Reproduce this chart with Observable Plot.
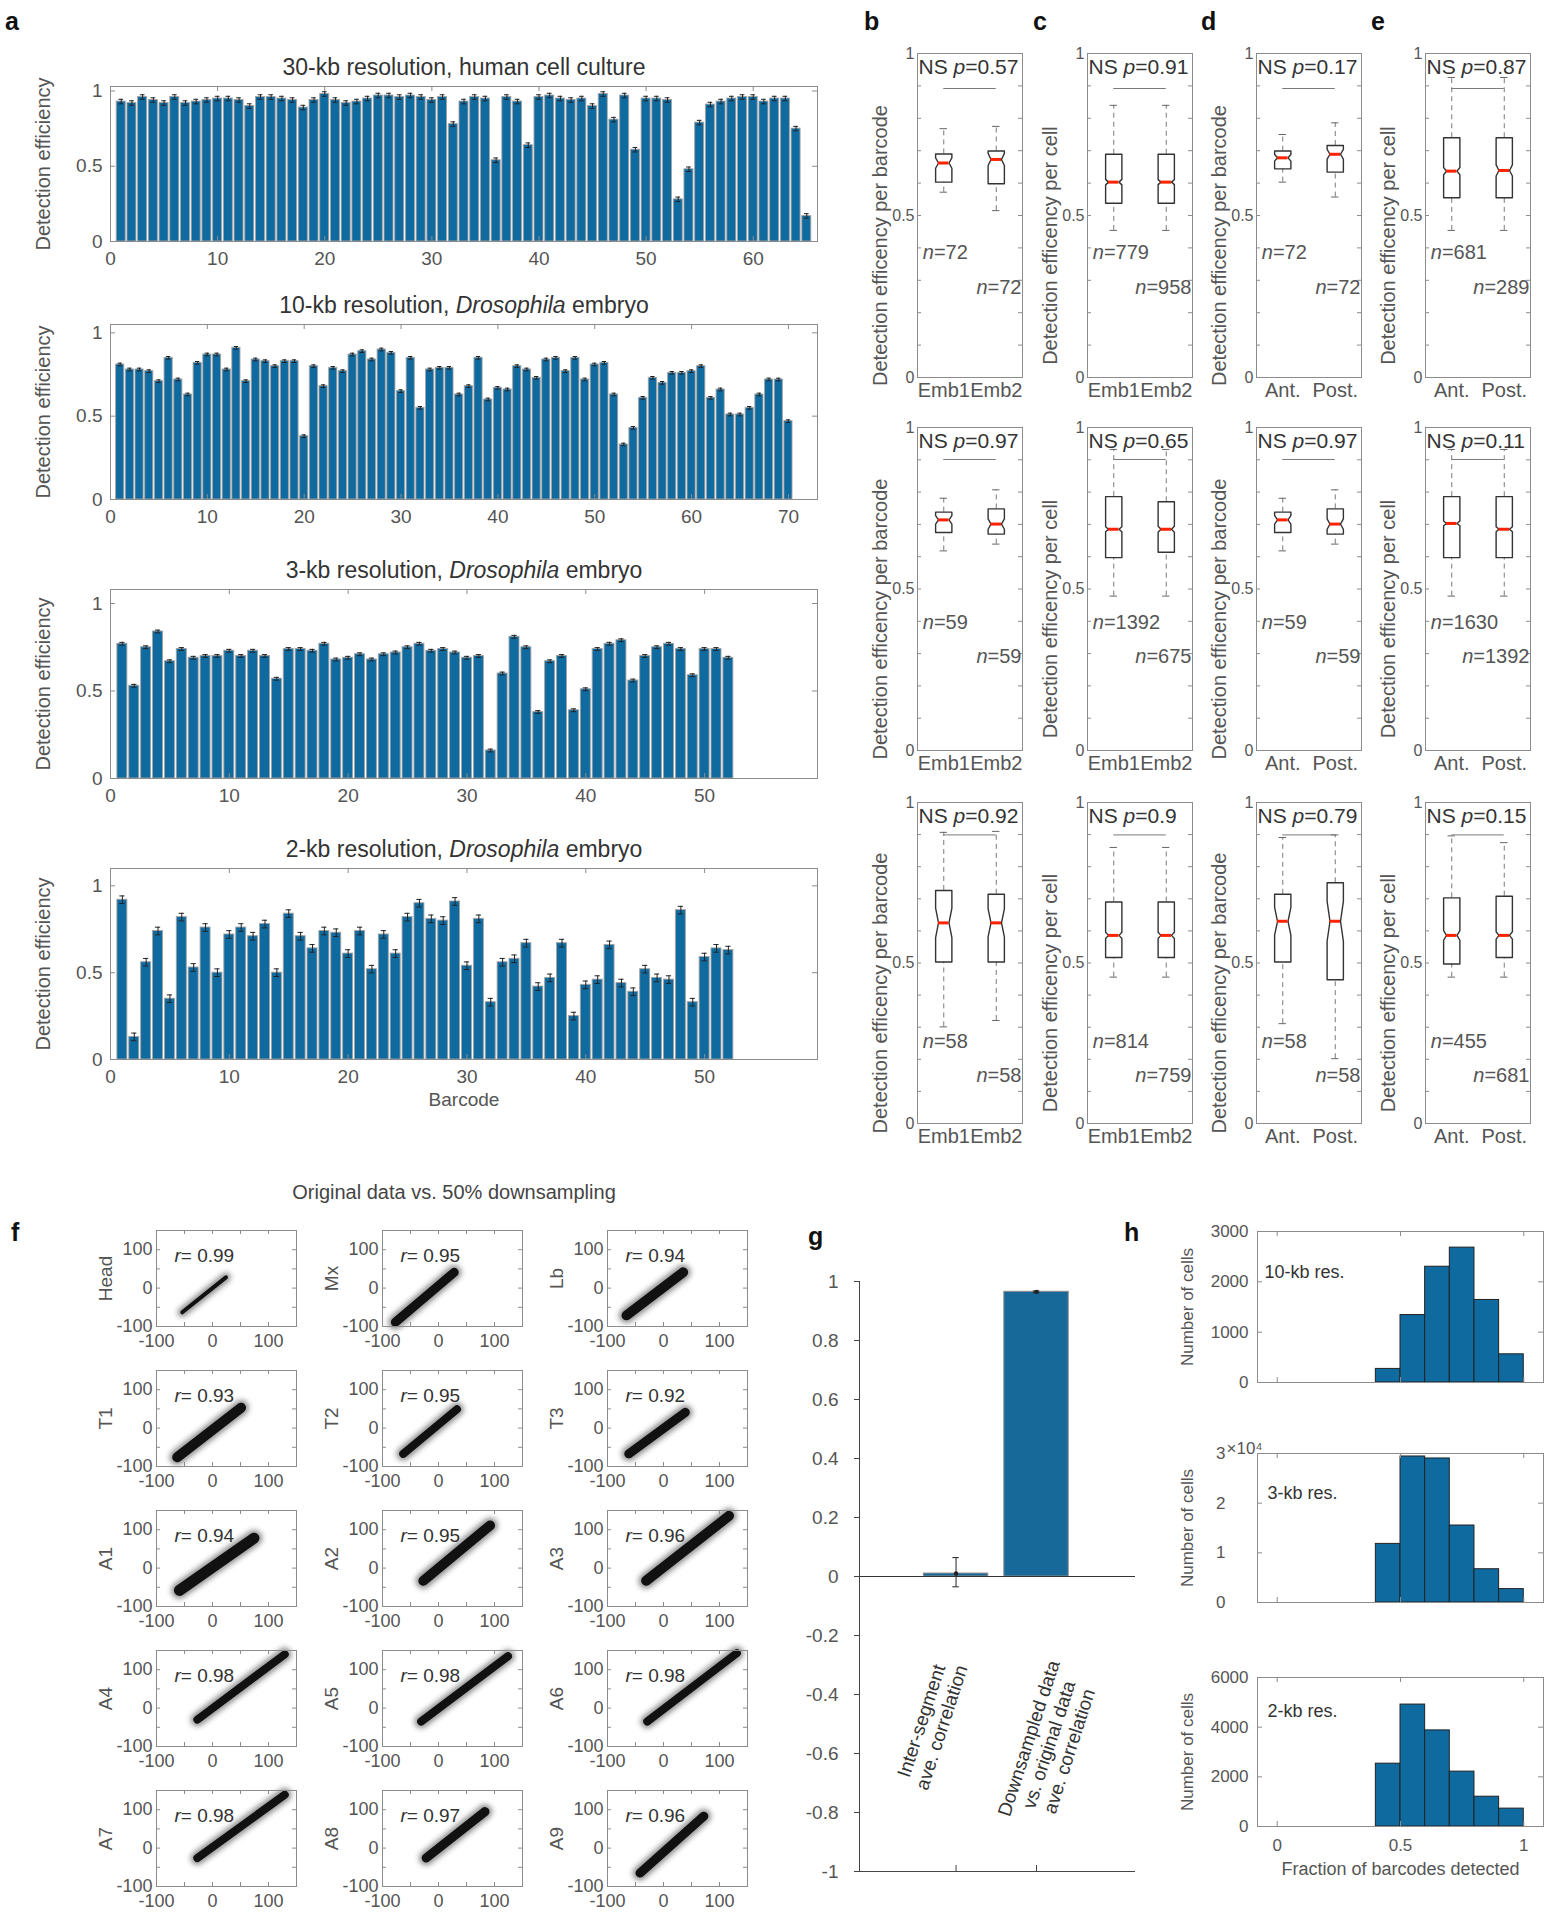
<!DOCTYPE html>
<html><head><meta charset="utf-8">
<script src="https://cdn.jsdelivr.net/npm/d3@7"></script>
<script src="https://cdn.jsdelivr.net/npm/@observablehq/plot@0.6"></script>
<style>
html,body{margin:0;padding:0;background:#fff;}
#fig{position:relative;width:1551px;height:1920px;overflow:hidden;background:#fff;font-family:"Liberation Sans",Arial,sans-serif;}
.plbl{position:absolute;font-weight:bold;font-size:25px;line-height:25px;color:#111;}
.ftitle{position:absolute;font-size:20px;line-height:20px;color:#444;transform:translateX(-50%);white-space:nowrap;}
</style></head><body><div id="fig"></div>
<script>
// ================= DATA =================
// Panel a: detection efficiency per barcode
const eff30 = [0.93,0.92,0.96,0.94,0.92,0.96,0.92,0.93,0.94,0.95, 0.95,0.94,0.90,0.96,0.96,0.95,0.94,0.89,0.94,0.98,
  0.94,0.92,0.93,0.95,0.97,0.97,0.96,0.97,0.96,0.94, 0.96,0.78,0.93,0.96,0.95,0.54,0.96,0.93,0.64,0.96,
  0.97,0.95,0.94,0.95,0.90,0.98,0.81,0.97,0.61,0.95, 0.95,0.94,0.28,0.48,0.79,0.91,0.93,0.95,0.96,0.96,
  0.93,0.95,0.95,0.75,0.17];
const eff10 = [0.81,0.78,0.78,0.77,0.71,0.85,0.72,0.63,0.82,0.87, 0.87,0.78,0.91,0.71,0.84,0.83,0.80,0.83,0.83,0.38,
  0.80,0.68,0.79,0.77,0.87,0.89,0.84,0.90,0.88,0.65, 0.85,0.55,0.78,0.79,0.79,0.63,0.68,0.85,0.60,0.67,
  0.66,0.80,0.78,0.73,0.84,0.85,0.77,0.85,0.72,0.81, 0.82,0.63,0.33,0.43,0.61,0.73,0.70,0.76,0.76,0.77,
  0.80,0.61,0.66,0.51,0.51,0.55,0.63,0.72,0.72,0.47];
const eff3 = [0.77,0.53,0.75,0.84,0.67,0.74,0.69,0.70,0.70,0.73, 0.70,0.73,0.70,0.57,0.74,0.74,0.73,0.77,0.68,0.69,
  0.71,0.68,0.71,0.72,0.75,0.77,0.73,0.74,0.72,0.69, 0.70,0.16,0.60,0.81,0.75,0.38,0.67,0.70,0.39,0.51,
  0.74,0.77,0.79,0.56,0.70,0.75,0.77,0.74,0.59,0.74, 0.74,0.69];
const eff2 = [0.92,0.13,0.56,0.74,0.35,0.82,0.53,0.76,0.50,0.72, 0.76,0.71,0.78,0.50,0.84,0.71,0.64,0.74,0.73,0.61,
  0.74,0.52,0.72,0.61,0.82,0.90,0.81,0.80,0.91,0.54, 0.81,0.33,0.56,0.58,0.67,0.42,0.47,0.67,0.25,0.43,
  0.46,0.66,0.44,0.39,0.52,0.47,0.46,0.86,0.33,0.59, 0.64,0.63];
const effErr = [0.015, 0.008, 0.008, 0.022];          // half-length of error bars per panel
const effTitles = ["30-kb resolution, human cell culture", "10-kb resolution, Drosophila embryo",
  "3-kb resolution, Drosophila embryo", "2-kb resolution, Drosophila embryo"];
const barTicks30 = [0,10,20,30,40,50,60];
const barTicks10 = [0,10,20,30,40,50,60,70];
const barTicks3 = [0,10,20,30,40,50];
const effTicks = [0, 0.5, 1];

// Panels b-e: notched box plots  [whisker low, q1, median, q3, whisker high]
const boxGroupsEmb = ["Emb1", "Emb2"];
const boxGroupsAP = ["Ant.", "Post."];
const boxYLabels = ["Detection efficency per barcode", "Detection efficency per cell",
  "Detection efficency per barcode", "Detection efficency per cell"];
const boxPValue = [["0.57","0.91","0.17","0.87"], ["0.97","0.65","0.97","0.11"], ["0.92","0.9","0.79","0.15"]];
const boxN = [
  [[72,72],[779,958],[72,72],[681,289]],
  [[59,59],[1392,675],[59,59],[1630,1392]],
  [[58,58],[814,759],[58,58],[455,681]]];
const boxStats = [
  [ [[0.572,0.603,0.662,0.690,0.768],[0.515,0.598,0.673,0.699,0.775]],
    [[0.454,0.538,0.603,0.689,0.840],[0.454,0.538,0.603,0.689,0.840]],
    [[0.603,0.644,0.678,0.699,0.750],[0.557,0.634,0.689,0.716,0.786]],
    [[0.454,0.555,0.637,0.740,0.926],[0.454,0.555,0.639,0.740,0.926]] ],
  [ [[0.618,0.675,0.714,0.738,0.781],[0.639,0.670,0.701,0.748,0.807]],
    [[0.478,0.597,0.685,0.786,0.932],[0.478,0.614,0.685,0.770,0.932]],
    [[0.618,0.675,0.714,0.738,0.781],[0.639,0.670,0.701,0.748,0.807]],
    [[0.478,0.597,0.703,0.786,0.932],[0.478,0.597,0.685,0.786,0.932]] ],
  [ [[0.301,0.503,0.625,0.726,0.907],[0.321,0.503,0.625,0.714,0.910]],
    [[0.456,0.517,0.586,0.690,0.860],[0.456,0.517,0.586,0.690,0.860]],
    [[0.311,0.503,0.630,0.714,0.891],[0.202,0.448,0.630,0.750,0.899]],
    [[0.456,0.497,0.586,0.703,0.896],[0.456,0.517,0.586,0.708,0.875]] ] ];
const boxSigLine = [0.892, 0.901, 0.899];
const boxTicks = [0, 0.5, 1];

// Panel f: original vs. downsampled, point cloud extent per segment
const segNames = ["Head","Mx","Lb","T1","T2","T3","A1","A2","A3","A4","A5","A6","A7","A8","A9"];
const segR = ["0.99","0.95","0.94","0.93","0.95","0.92","0.94","0.95","0.96","0.98","0.98","0.98","0.98","0.97","0.96"];
const cloudFrom = [[-54,-63],[-77,-89],[-66,-71],[-63,-76],[-63,-67],[-62,-67],[-59,-58],[-27,-33],[-31,-33],
  [-27,-30],[-31,-35],[-29,-35],[-27,-26],[-22,-26],[-42,-65]];
const cloudTo = [[24,28],[28,41],[35,41],[51,53],[33,49],[39,41],[74,78],[92,111],[117,136],
  [129,140],[124,135],[131,143],[129,139],[83,95],[72,83]];
const cloudSpreadPx = [5,10,11,11,9,10,12,11,11,9,9,9,9,10,10];
const scatterTicks = [-100, 0, 100];

// Panel g
const gCategories = ["Inter-segment\nave. correlation", "Downsampled data\nvs. original data\nave. correlation"];
const gMean = [0.01, 0.965];
const gLow = [-0.035, 0.962];
const gHigh = [0.064, 0.968];
const gTicks = [1, 0.8, 0.6, 0.4, 0.2, 0, -0.2, -0.4, -0.6, -0.8, -1];

// Panel h: histograms of fraction of barcodes detected
const hBinEdges = [0.4, 0.5, 0.6, 0.7, 0.8, 0.9, 1.0];
const hCounts10 = [270, 1340, 2300, 2680, 1640, 560];
const hCounts3 = [11800, 29400, 29000, 15500, 6700, 2700];
const hCounts2 = [2530, 4910, 3870, 2210, 1200, 720];
const hLabels = ["10-kb res.", "3-kb res.", "2-kb res."];

// ================= RENDERING =================
const fig = document.getElementById("fig");
const BLUE = "#0f6aa0";
const FONT = '"Liberation Sans", Arial, Helvetica, sans-serif';
const AX = "#8c8c8c", TXT = "#555", DARK = "#333";
const fmt = d => String(d);
const SVGNS = "http://www.w3.org/2000/svg";

function addTspan(t, s) {
  const ts = document.createElementNS(SVGNS, "tspan");
  ts.setAttribute("font-style", "italic");
  ts.textContent = s;
  t.appendChild(ts);
}
function richify(root) {
  root.querySelectorAll("text").forEach(t => {
    if (t.querySelector("tspan")) return;
    const s = t.textContent;
    const m = s.match(/^(NS )?([pnr])(=.*)$/);
    if (m) {
      t.textContent = "";
      if (m[1]) t.appendChild(document.createTextNode(m[1]));
      addTspan(t, m[2]);
      t.appendChild(document.createTextNode(m[3]));
      return;
    }
    const k = s.indexOf("Drosophila");
    if (k >= 0) {
      t.textContent = "";
      t.appendChild(document.createTextNode(s.slice(0, k)));
      addTspan(t, "Drosophila");
      t.appendChild(document.createTextNode(s.slice(k + 10)));
    }
  });
}
function mount(svg, L, T, mL, mT) {
  svg.style.position = "absolute";
  svg.style.left = (L - mL) + "px";
  svg.style.top = (T - mT) + "px";
  richify(svg);
  fig.appendChild(svg);
}
function baseStyle(size) {
  return {fontFamily: FONT, fontSize: size + "px", color: TXT, background: "transparent", overflow: "visible"};
}
function label(txt, L, T) {
  const d = document.createElement("div");
  d.className = "plbl"; d.textContent = txt;
  d.style.left = L + "px"; d.style.top = T + "px";
  fig.appendChild(d);
}
function yTitle(txt, offset, size, shift = 0) {
  return Plot.text([txt], {frameAnchor: "left", dx: -offset, dy: shift, rotate: -90, textAnchor: "middle", fontSize: size, fill: TXT});
}

// ---------- panel a ----------
const aLayout = [
  {values: eff30, xDomain: [0, 66], yDomain: [0, 1.03], T: 86, B: 241, ticks: barTicks30},
  {values: eff10, xDomain: [0, 73], yDomain: [0, 1.05], T: 324, B: 499, ticks: barTicks10},
  {values: eff3, xDomain: [0, 59.5], yDomain: [0, 1.08], T: 589, B: 778, ticks: barTicks3},
  {values: eff2, xDomain: [0, 59.5], yDomain: [0, 1.1], T: 868, B: 1059, ticks: barTicks3, xlabel: "Barcode"}
];
aLayout.forEach((cfg, k) => {
  const L = 110, R = 817, W = R - L, H = cfg.B - cfg.T;
  const mL = 90, mR = 12, mT = 48, mB = 62;
  const err = effErr[k];
  const data = cfg.values.map((v, i) => ({i: i + 1, v}));
  const svg = Plot.plot({
    width: W + mL + mR, height: H + mT + mB,
    marginLeft: mL, marginRight: mR, marginTop: mT, marginBottom: mB,
    style: baseStyle(19),
    x: {domain: cfg.xDomain}, y: {domain: cfg.yDomain},
    marks: [
      Plot.rect(data, {x1: d => d.i - 0.42, x2: d => d.i + 0.42, y1: 0, y2: "v", fill: BLUE, stroke: "#a3a3a3", strokeWidth: 0.9}),
      Plot.ruleX(data, {x: "i", y1: d => d.v - err, y2: d => d.v + err, stroke: "#222", strokeWidth: 1}),
      Plot.ruleY(data, {y: d => d.v + err, x1: d => d.i - 0.22, x2: d => d.i + 0.22, stroke: "#222", strokeWidth: 1}),
      Plot.ruleY(data, {y: d => d.v - err, x1: d => d.i - 0.22, x2: d => d.i + 0.22, stroke: "#222", strokeWidth: 1}),
      Plot.tickX(cfg.ticks, {x: d => d, insetTop: H - 5, stroke: AX}),
      Plot.tickX(cfg.ticks, {x: d => d, insetBottom: H - 5, stroke: AX}),
      Plot.tickY(effTicks, {y: d => d, insetRight: W - 5, stroke: AX}),
      Plot.tickY(effTicks, {y: d => d, insetLeft: W - 5, stroke: AX}),
      Plot.frame({stroke: AX}),
      Plot.axisX({ticks: cfg.ticks, tickFormat: fmt, tickSize: 0, tickPadding: 10, label: null, fontSize: 19}),
      Plot.axisY({ticks: effTicks, tickFormat: fmt, tickSize: 0, tickPadding: 8, label: null, fontSize: 19}),
      Plot.text([effTitles[k]], {frameAnchor: "top", dy: -28, fontSize: 23, fill: DARK}),
      yTitle("Detection efficiency", 67, 20),
      cfg.xlabel ? Plot.text([cfg.xlabel], {frameAnchor: "bottom", dy: 46, fontSize: 19, fill: TXT}) : null
    ].filter(Boolean)
  });
  mount(svg, L, cfg.T, mL, mT);
});

// ---------- panels b-e ----------
const boxColL = [917, 1087, 1256, 1425];
const boxRowTB = [[53, 377], [427, 750], [802, 1123]];
const nLabelY = [[0.387, 0.278], [0.396, 0.292], [0.254, 0.150]];
const minorTicks = d3.range(0, 11).map(i => i / 10);
for (let row = 0; row < 3; row++) {
  for (let col = 0; col < 4; col++) {
    const L = boxColL[col], [T, B] = boxRowTB[row];
    const W = 105, H = B - T;
    const mL = 62, mR = 14, mT = 10, mB = 34;
    const cats = col < 2 ? boxGroupsEmb : boxGroupsAP;
    const ns = boxN[row][col];
    const boxes = boxStats[row][col].map((s, k) => ({x: k + 1, lo: s[0], q1: s[1], med: s[2], q3: s[3], hi: s[4], n: ns[k]}));
    const hw = 0.155, hin = 0.1;
    const outline = boxes.flatMap(b => {
      const nt = 1.57 * (b.q3 - b.q1) / Math.sqrt(b.n);
      const nlo = Math.max(b.q1, b.med - nt), nhi = Math.min(b.q3, b.med + nt);
      return [[b.x - hw, b.q1], [b.x + hw, b.q1], [b.x + hw, nlo], [b.x + hin, b.med], [b.x + hw, nhi],
        [b.x + hw, b.q3], [b.x - hw, b.q3], [b.x - hw, nhi], [b.x - hin, b.med], [b.x - hw, nlo], [b.x - hw, b.q1]]
        .map(([x, y]) => ({g: b.x, x, y}));
    });
    const svg = Plot.plot({
      width: W + mL + mR, height: H + mT + mB,
      marginLeft: mL, marginRight: mR, marginTop: mT, marginBottom: mB,
      style: baseStyle(20),
      x: {domain: [0.5, 2.5]}, y: {domain: [0, 1]},
      marks: [
        Plot.tickY(minorTicks, {y: d => d, insetRight: W - 4, stroke: AX}),
        Plot.tickY(minorTicks, {y: d => d, insetLeft: W - 4, stroke: AX}),
        Plot.frame({stroke: AX}),
        Plot.ruleX(boxes, {x: "x", y1: "q3", y2: "hi", stroke: "#7a7a7a", strokeDasharray: "5,4"}),
        Plot.ruleX(boxes, {x: "x", y1: "lo", y2: "q1", stroke: "#7a7a7a", strokeDasharray: "5,4"}),
        Plot.ruleY(boxes, {y: "hi", x1: d => d.x - 0.07, x2: d => d.x + 0.07, stroke: "#666"}),
        Plot.ruleY(boxes, {y: "lo", x1: d => d.x - 0.07, x2: d => d.x + 0.07, stroke: "#666"}),
        Plot.ruleY([boxSigLine[row]], {y: d => d, x1: 1, x2: 2, stroke: "#7a7a7a"}),
        Plot.line(outline, {x: "x", y: "y", z: "g", stroke: "#333", strokeWidth: 1.4}),
        Plot.ruleY(boxes, {y: "med", x1: d => d.x - hin, x2: d => d.x + hin, stroke: "#ff2200", strokeWidth: 3}),
        Plot.axisY({ticks: boxTicks, tickFormat: fmt, tickSize: 0, tickPadding: 3, label: null, fontSize: 16}),
        Plot.axisX({ticks: [1, 2], tickFormat: i => cats[i - 1], tickSize: 0, tickPadding: 5, label: null, fontSize: 20}),
        Plot.text(["NS p=" + boxPValue[row][col]], {x: 0.52, y: 0.957, textAnchor: "start", fontSize: 21, fill: DARK}),
        Plot.text(["n=" + ns[0]], {x: 0.6, y: nLabelY[row][0], textAnchor: "start", fontSize: 20, fill: TXT}),
        Plot.text(["n=" + ns[1]], {x: 2.48, y: nLabelY[row][1], textAnchor: "end", fontSize: 20, fill: TXT}),
        yTitle(boxYLabels[col], 37, 20, 30)
      ]
    });
    mount(svg, L, T, mL, mT);
  }
}

// ---------- panel f ----------
const fColL = [156, 382, 607];
const fRowT = [1230, 1370, 1510, 1650, 1790];
const fMinor = [-50, 0, 50, 100];
segNames.forEach((name, k) => {
  const L = fColL[k % 3], T = fRowT[Math.floor(k / 3)];
  const W = 140, H = 96;
  const mL = 62, mR = 14, mT = 8, mB = 34;
  const cloud = [{x1: cloudFrom[k][0], y1: cloudFrom[k][1], x2: cloudTo[k][0], y2: cloudTo[k][1]}];
  const w = cloudSpreadPx[k];
  const svg = Plot.plot({
    width: W + mL + mR, height: H + mT + mB,
    marginLeft: mL, marginRight: mR, marginTop: mT, marginBottom: mB,
    style: baseStyle(18),
    x: {domain: [-100, 150]}, y: {domain: [-100, 150]},
    marks: [
      Plot.link(cloud, {x1: "x1", y1: "y1", x2: "x2", y2: "y2", stroke: "#333", strokeOpacity: 0.5, strokeWidth: w + 5, strokeLinecap: "round"}),
      Plot.link(cloud, {x1: "x1", y1: "y1", x2: "x2", y2: "y2", stroke: "#111", strokeWidth: w - 1, strokeLinecap: "round"}),
      Plot.tickX(fMinor, {x: d => d, insetTop: H - 4, stroke: AX}),
      Plot.tickX(fMinor, {x: d => d, insetBottom: H - 4, stroke: AX}),
      Plot.tickY(fMinor, {y: d => d, insetRight: W - 4, stroke: AX}),
      Plot.tickY(fMinor, {y: d => d, insetLeft: W - 4, stroke: AX}),
      Plot.frame({stroke: AX}),
      Plot.axisX({ticks: scatterTicks, tickFormat: fmt, tickSize: 0, tickPadding: 8, label: null, fontSize: 18}),
      Plot.axisY({ticks: scatterTicks, tickFormat: fmt, tickSize: 0, tickPadding: 4, label: null, fontSize: 18}),
      Plot.text(["r= " + segR[k]], {frameAnchor: "top-left", dx: 18, dy: 18, textAnchor: "start", fontSize: 19, fill: DARK}),
      yTitle(name, 51, 19)
    ]
  });
  // soften the halo of the point cloud with a blur
  const defs = document.createElementNS(SVGNS, "defs");
  const filt = document.createElementNS(SVGNS, "filter");
  filt.setAttribute("id", "cloudblur" + k);
  filt.setAttribute("filterUnits", "userSpaceOnUse");
  filt.setAttribute("x", "0"); filt.setAttribute("y", "0");
  filt.setAttribute("width", String(W + mL + mR)); filt.setAttribute("height", String(H + mT + mB));
  const blur = document.createElementNS(SVGNS, "feGaussianBlur");
  blur.setAttribute("stdDeviation", "2.4");
  filt.appendChild(blur); defs.appendChild(filt); svg.insertBefore(defs, svg.firstChild);
  const links = svg.querySelectorAll('g[aria-label="link"]');
  if (links.length) links[0].setAttribute("filter", `url(#cloudblur${k})`);
  mount(svg, L, T, mL, mT);
});

// ---------- panel g ----------
{
  const L = 859, R = 1135, T = 1281, B = 1871, W = R - L, H = B - T;
  const mL = 70, mR = 14, mT = 10, mB = 14;
  const gData = gMean.map((v, i) => ({x: i + 1, v, lo: gLow[i], hi: gHigh[i], label: gCategories[i]}));
  const svg = Plot.plot({
    width: W + mL + mR, height: H + mT + mB,
    marginLeft: mL, marginRight: mR, marginTop: mT, marginBottom: mB,
    style: baseStyle(19),
    x: {domain: [-0.2, 3.23], axis: null}, y: {domain: [-1, 1]},
    marks: [
      Plot.rect(gData, {x1: d => d.x - 0.4, x2: d => d.x + 0.4, y1: 0, y2: "v", fill: "#17699a", stroke: "#8a8a8a", strokeWidth: 1}),
      Plot.ruleY([0], {stroke: "#333", strokeWidth: 1}),
      Plot.ruleX(gData, {x: "x", y1: "lo", y2: "hi", stroke: "#222"}),
      Plot.ruleY(gData, {y: "hi", x1: d => d.x - 0.04, x2: d => d.x + 0.04, stroke: "#222"}),
      Plot.ruleY(gData, {y: "lo", x1: d => d.x - 0.04, x2: d => d.x + 0.04, stroke: "#222"}),
      Plot.dot(gData, {x: "x", y: "v", r: 2.2, fill: "#222"}),
      Plot.ruleX([-0.2], {y1: -1, y2: 1, stroke: "#444"}),
      Plot.ruleY([-1], {stroke: "#444"}),
      Plot.tickX([1, 2], {x: d => d, insetTop: H - 6, stroke: "#444"}),
      Plot.axisY({ticks: gTicks, tickFormat: fmt, tickSize: 5, tickPadding: 16, label: null, fontSize: 19, stroke: "#444"}),
      Plot.text([gData[0]], {x: "x", y: -0.5, dx: -25, text: "label", rotate: -72, lineHeight: 1.12, fontSize: 19, fill: DARK}),
      Plot.text([gData[1]], {x: "x", y: -0.57, dx: 12, text: "label", rotate: -72, lineHeight: 1.12, fontSize: 19, fill: DARK})
    ]
  });
  mount(svg, L, T, mL, mT);
}

// ---------- panel h ----------
{
  const L = 1257, R = 1543, W = R - L;
  const hLayout = [
    {counts: hCounts10, T: 1231, B: 1382, yMax: 3000, ticks: [0, 1000, 2000, 3000], f: fmt, pad: 9, ann: [7, 34]},
    {counts: hCounts3, T: 1453, B: 1602, yMax: 30000, ticks: [0, 10000, 20000, 30000], f: d => String(d / 1e4), pad: 32, ann: [10, 33], exp: true},
    {counts: hCounts2, T: 1677, B: 1826, yMax: 6000, ticks: [0, 2000, 4000, 6000], f: fmt, pad: 9, ann: [10, 27], xlabel: true}
  ];
  hLayout.forEach((cfg, k) => {
    const H = cfg.B - cfg.T;
    const mL = 82, mR = 8, mT = 24, mB = cfg.xlabel ? 62 : 10;
    const bins = cfg.counts.map((c, i) => ({x1: hBinEdges[i], x2: hBinEdges[i + 1], c}));
    const svg = Plot.plot({
      width: W + mL + mR, height: H + mT + mB,
      marginLeft: mL, marginRight: mR, marginTop: mT, marginBottom: mB,
      style: baseStyle(17),
      x: {domain: [-0.08, 1.08], axis: null}, y: {domain: [0, cfg.yMax], axis: null},
      marks: [
        Plot.rect(bins, {x1: "x1", x2: "x2", y1: 0, y2: "c", fill: BLUE, stroke: "#222", strokeWidth: 1}),
        Plot.tickX([0, 0.5, 1], {x: d => d, insetTop: H - 5, stroke: AX}),
        Plot.tickX([0, 0.5, 1], {x: d => d, insetBottom: H - 5, stroke: AX}),
        Plot.tickY(cfg.ticks, {y: d => d, insetRight: W - 5, stroke: AX}),
        Plot.tickY(cfg.ticks, {y: d => d, insetLeft: W - 5, stroke: AX}),
        Plot.frame({stroke: AX}),
        Plot.axisY({ticks: cfg.ticks, tickFormat: cfg.f, tickSize: 0, tickPadding: cfg.pad, label: null, fontSize: 17}),
        cfg.xlabel ? Plot.axisX({ticks: [0, 0.5, 1], tickFormat: fmt, tickSize: 0, tickPadding: 12, label: null, fontSize: 17}) : null,
        cfg.xlabel ? Plot.text(["Fraction of barcodes detected"], {frameAnchor: "bottom", dy: 48, fontSize: 18, fill: TXT}) : null,
        cfg.exp ? Plot.text(["×10⁴"], {frameAnchor: "top-left", dx: -31, dy: -12, textAnchor: "start", fontSize: 17, fill: TXT}) : null,
        Plot.text([hLabels[k]], {frameAnchor: "top-left", dx: cfg.ann[0], dy: cfg.ann[1], textAnchor: "start", fontSize: 18, fill: DARK}),
        yTitle("Number of cells", 70, 17)
      ].filter(Boolean)
    });
    mount(svg, L, cfg.T, mL, mT);
  });
}

// ---------- panel letters and f title ----------
label("a", 5, 9); label("b", 864, 9); label("c", 1033, 9); label("d", 1201, 9); label("e", 1371, 9);
label("f", 11, 1220); label("g", 808, 1224); label("h", 1124, 1220);
const ft = document.createElement("div");
ft.className = "ftitle"; ft.textContent = "Original data vs. 50% downsampling";
ft.style.left = "454px"; ft.style.top = "1182px";
fig.appendChild(ft);
</script></body></html>
